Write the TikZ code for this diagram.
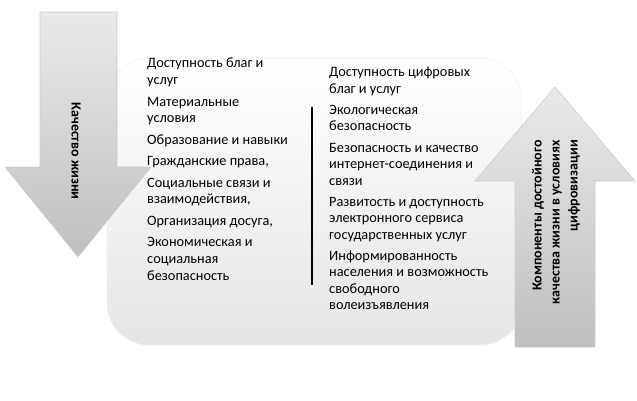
\documentclass[tikz,border=0pt]{standalone}
\usepackage{fontspec}
\setmainfont{Carlito}
\begin{document}
\begin{tikzpicture}[x=1pt,y=-1pt,
  arrowshape/.style={draw=gray!40,line width=0.6pt,top color=gray!17,bottom color=gray!50},
  boxshape/.style={top color=white,bottom color=gray!20,draw=gray!12,line width=0.6pt},
  coltext/.style={anchor=north west,align=left,inner sep=0pt,font=\fontsize{14.3}{16.8}\selectfont},
  arrtext/.style={font=\fontsize{14}{18}\selectfont\bfseries,inner sep=0pt}]
\useasboundingbox (0,0) rectangle (637,400);
% main rounded box
\path[boxshape,rounded corners=42pt] (107,58) rectangle (522,345);
% down arrow
\path[arrowshape] (40,12) -- (117,12) -- (117,167) -- (151,167) -- (78,257) -- (5,167) -- (40,167) -- cycle;
\node[arrtext,rotate=-90] (qlabel) at (76,151) {Качество жизни};
% up arrow
\path[arrowshape] (555,87) -- (635,181) -- (595,181) -- (595,347) -- (515,347) -- (515,181) -- (475,181) -- cycle;
\node[arrtext,rotate=90,anchor=east,align=right] (clabel) at (556,140) {Компоненты достойного\\качества жизни в условиях\\цифровизации};
% left column
\node[coltext] (lcol) at (147,58) {Доступность благ и\\услуг\\[4.6pt]Материальные\\условия\\[4.6pt]Образование и навыки\\[4.6pt]Гражданские права,\\[4.6pt]Социальные связи и\\взаимодействия,\\[4.6pt]Организация досуга,\\[4.6pt]Экономическая и\\социальная\\безопасность};
% separator
\coordinate (s1) at (312,107);
\coordinate (s2) at (312,285);
\draw[line width=1.3pt] (s1) -- (s2);
% right column
\node[coltext,font=\fontsize{14.3}{16.5}\selectfont] (rcol) at (329,67) {Доступность цифровых\\благ и услуг\\[4.6pt]Экологическая\\безопасность\\[4.6pt]Безопасность и качество\\интернет-соединения и\\связи\\[4.6pt]Развитость и доступность\\электронного сервиса\\государственных услуг\\[4.6pt]Информированность\\населения и возможность\\свободного\\волеизъявления};
\end{tikzpicture}
\end{document}
